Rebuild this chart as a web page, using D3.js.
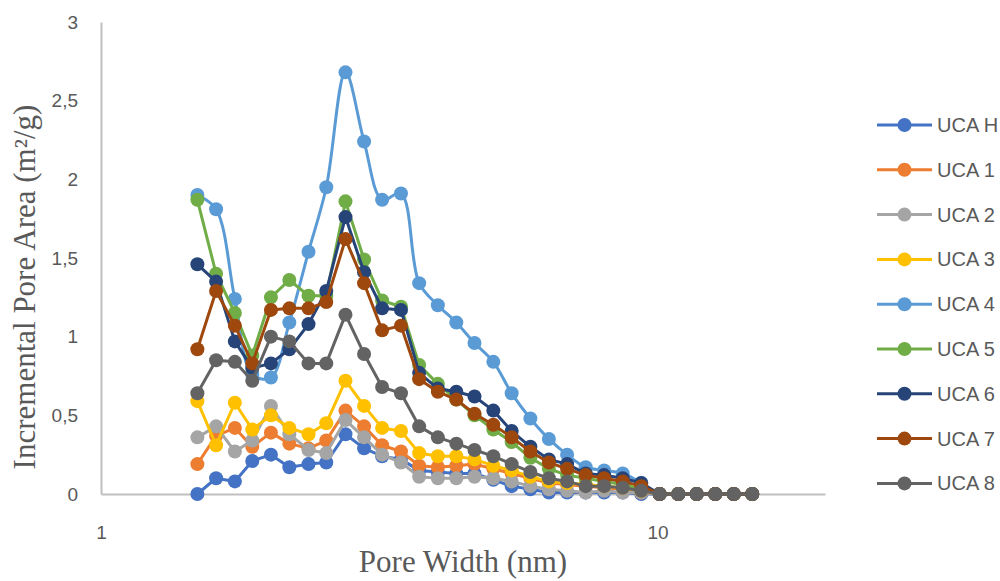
<!DOCTYPE html>
<html>
<head>
<meta charset="utf-8">
<script src="https://cdn.jsdelivr.net/npm/d3@7"></script>
<style>
  html, body { margin: 0; padding: 0; background: #fff; }
  svg { display: block; }
</style>
</head>
<body>
<svg id="chart" width="1000" height="581"></svg>
<script>
// Pore widths (nm)
const poreWidths = [1.49, 1.61, 1.74, 1.87, 2.02, 2.18, 2.36, 2.54, 2.75, 2.97, 3.20, 3.46, 3.73, 4.03, 4.35, 4.69, 5.07, 5.47, 5.91, 6.38, 6.88, 7.43, 8.02, 8.66, 9.35, 10.09, 10.90, 11.76, 12.70, 13.71, 14.80];

// Incremental pore area (m²/g) per sample
const ucaH = [0.00, 0.10, 0.08, 0.21, 0.25, 0.17, 0.19, 0.20, 0.38, 0.29, 0.24, 0.22, 0.15, 0.14, 0.13, 0.13, 0.09, 0.05, 0.03, 0.01, 0.01, 0.01, 0.01, 0.01, 0.00, 0, 0, 0, 0, 0, 0];
const uca1 = [0.19, 0.37, 0.42, 0.30, 0.39, 0.32, 0.29, 0.34, 0.53, 0.43, 0.31, 0.27, 0.18, 0.17, 0.18, 0.19, 0.16, 0.13, 0.10, 0.07, 0.06, 0.05, 0.04, 0.03, 0.01, 0, 0, 0, 0, 0, 0];
const uca2 = [0.36, 0.43, 0.27, 0.34, 0.56, 0.38, 0.28, 0.26, 0.47, 0.36, 0.25, 0.20, 0.11, 0.10, 0.10, 0.11, 0.10, 0.08, 0.05, 0.03, 0.02, 0.01, 0.02, 0.01, 0.01, 0, 0, 0, 0, 0, 0];
const uca3 = [0.59, 0.31, 0.58, 0.41, 0.50, 0.42, 0.38, 0.45, 0.72, 0.56, 0.42, 0.40, 0.26, 0.24, 0.24, 0.22, 0.18, 0.15, 0.11, 0.08, 0.07, 0.06, 0.05, 0.04, 0.02, 0, 0, 0, 0, 0, 0];
const uca4 = [1.90, 1.81, 1.24, 0.76, 0.74, 1.09, 1.54, 1.95, 2.68, 2.24, 1.87, 1.91, 1.34, 1.20, 1.09, 0.96, 0.84, 0.64, 0.48, 0.35, 0.25, 0.17, 0.15, 0.13, 0.07, 0, 0, 0, 0, 0, 0];
const uca5 = [1.87, 1.40, 1.15, 0.88, 1.25, 1.36, 1.26, 1.26, 1.86, 1.49, 1.23, 1.19, 0.82, 0.70, 0.60, 0.50, 0.41, 0.33, 0.23, 0.16, 0.12, 0.10, 0.08, 0.06, 0.03, 0, 0, 0, 0, 0, 0];
const uca6 = [1.46, 1.35, 0.97, 0.80, 0.83, 0.92, 1.08, 1.29, 1.76, 1.41, 1.18, 1.17, 0.77, 0.67, 0.65, 0.62, 0.53, 0.40, 0.30, 0.22, 0.19, 0.13, 0.12, 0.10, 0.07, 0, 0, 0, 0, 0, 0];
const uca7 = [0.92, 1.29, 1.07, 0.83, 1.17, 1.18, 1.18, 1.22, 1.62, 1.34, 1.04, 1.07, 0.73, 0.65, 0.60, 0.51, 0.44, 0.36, 0.27, 0.20, 0.16, 0.12, 0.10, 0.08, 0.05, 0, 0, 0, 0, 0, 0];
const uca8 = [0.64, 0.85, 0.84, 0.72, 1.00, 0.97, 0.83, 0.83, 1.14, 0.89, 0.68, 0.64, 0.43, 0.36, 0.32, 0.28, 0.24, 0.19, 0.14, 0.10, 0.08, 0.05, 0.05, 0.04, 0.02, 0, 0, 0, 0, 0, 0];

const seriesNames = ["UCA H", "UCA 1", "UCA 2", "UCA 3", "UCA 4", "UCA 5", "UCA 6", "UCA 7", "UCA 8"];
const seriesValues = [ucaH, uca1, uca2, uca3, uca4, uca5, uca6, uca7, uca8];
const seriesColors = ["#4472C4", "#ED7D31", "#A5A5A5", "#FFC000", "#5B9BD5", "#70AD47", "#264478", "#9E480E", "#636363"];
const smoothedSeries = ["UCA 4"];

const xTickValues = [1, 10];
const yTickValues = [0, 0.5, 1, 1.5, 2, 2.5, 3];
const yTickFormat = d => String(d).replace(".", ",");

const xTitle = "Pore Width (nm)";
const yTitle = "Incremental Pore Area (m²/g)";

// ---- layout ----
const plot = { left: 101, right: 825, top: 22, bottom: 494 };
const textGray = "#595959";
const axisGray = "#BFBFBF";
const sansFont = "'Liberation Sans', Arial, sans-serif";
const serifFont = "'Liberation Serif', 'Times New Roman', serif";

const svg = d3.select("#chart");

const x = d3.scaleLog().domain([1, 20]).range([plot.left, plot.right]);
const y = d3.scaleLinear().domain([0, 3]).range([plot.bottom, plot.top]);

// axes (lines only, labels drawn by the axis generators)
const xAxis = svg.append("g")
  .attr("transform", `translate(0,${plot.bottom})`)
  .call(d3.axisBottom(x).tickValues(xTickValues).tickFormat(d3.format("d")).tickSize(0).tickPadding(32));
xAxis.select(".domain").attr("stroke", axisGray).attr("stroke-width", 2);
xAxis.selectAll("text").attr("fill", textGray).attr("font-family", sansFont).attr("font-size", 19);

const yAxis = svg.append("g")
  .attr("transform", `translate(${plot.left},0)`)
  .call(d3.axisLeft(y).tickValues(yTickValues).tickFormat(yTickFormat).tickSize(0).tickPadding(23));
yAxis.select(".domain").attr("stroke", axisGray).attr("stroke-width", 2);
yAxis.selectAll("text").attr("fill", textGray).attr("font-family", sansFont).attr("font-size", 19);

// axis titles
svg.append("text")
  .attr("x", (plot.left + plot.right) / 2)
  .attr("y", 572)
  .attr("text-anchor", "middle")
  .attr("fill", textGray)
  .attr("font-family", serifFont)
  .attr("font-size", 31)
  .text(xTitle);

svg.append("text")
  .attr("transform", `translate(35,${(plot.top + plot.bottom) / 2 + 29}) rotate(-90)`)
  .attr("text-anchor", "middle")
  .attr("fill", textGray)
  .attr("font-family", serifFont)
  .attr("font-size", 31)
  .text(yTitle);

// series
const straight = d3.line().x(d => x(d[0])).y(d => y(d[1]));
const smooth = d3.line().x(d => x(d[0])).y(d => y(d[1])).curve(d3.curveCatmullRom.alpha(0.5));

seriesNames.forEach((name, i) => {
  const pts = poreWidths.map((w, j) => [w, seriesValues[i][j]]);
  const g = svg.append("g").attr("class", "series");
  g.append("path")
    .datum(pts)
    .attr("fill", "none")
    .attr("stroke", seriesColors[i])
    .attr("stroke-width", 3)
    .attr("stroke-linejoin", "round")
    .attr("d", smoothedSeries.includes(name) ? smooth : straight);
  g.selectAll("circle")
    .data(pts)
    .join("circle")
    .attr("cx", d => x(d[0]))
    .attr("cy", d => y(d[1]))
    .attr("r", 7)
    .attr("fill", seriesColors[i]);
});

// legend
const legend = svg.append("g").attr("transform", "translate(877,125)");
seriesNames.forEach((name, i) => {
  const row = legend.append("g").attr("transform", `translate(0,${i * 44.8})`);
  row.append("line")
    .attr("x1", 0).attr("x2", 55)
    .attr("stroke", seriesColors[i]).attr("stroke-width", 3);
  row.append("circle")
    .attr("cx", 27.5).attr("r", 7).attr("fill", seriesColors[i]);
  row.append("text")
    .attr("x", 60).attr("dy", "0.35em")
    .attr("fill", textGray)
    .attr("font-family", sansFont)
    .attr("font-size", 20)
    .text(name);
});
</script>
</body>
</html>
